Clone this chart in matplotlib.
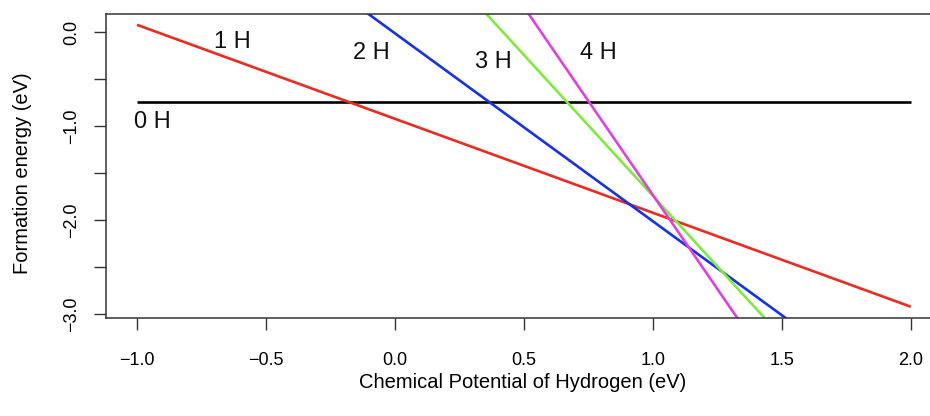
import numpy as np
import matplotlib
matplotlib.use("Agg")
import matplotlib.pyplot as plt

plt.rcParams['font.family'] = ['Liberation Sans', 'DejaVu Sans']

# Data
mu_range = [-1.0, 2.0]
n_hydrogen = [0, 1, 2, 3, 4]
offsets = [-0.74, -0.92, -0.01, 1.26, 2.27]      # E = offset - n * mu
colors = ['#000000', '#EE2A1E', '#1530EE', '#7EEB3C', '#E040E0']
labels = ['0 H', '1 H', '2 H', '3 H', '4 H']
label_mu = [-0.94, -0.63, -0.09, 0.38, 0.79]
label_E = [-0.95, -0.10, -0.22, -0.32, -0.22]
xticks = [-1.0, -0.5, 0.0, 0.5, 1.0, 1.5, 2.0]
yticks = [0.0, -0.5, -1.0, -1.5, -2.0, -2.5, -3.0]
ytick_labels = ['0.0', '', '\u22121.0', '', '\u22122.0', '', '\u22123.0']
xtick_labels = ['\u22121.0', '\u22120.5', '0.0', '0.5', '1.0', '1.5', '2.0']

fig = plt.figure(figsize=(9.3, 4.16), dpi=100)
ax = fig.add_axes([106/930, 98/416, (941.7-106)/930, (318-14)/416])

mu = np.array(mu_range)
for n, off, c in zip(n_hydrogen, offsets, colors):
    ax.plot(mu, off - n * mu, color=c, lw=1.9, solid_capstyle='butt')

for lab, x, y in zip(labels, label_mu, label_E):
    ax.text(x, y, lab, fontsize=17, ha='center', va='center', color='#111111')

ax.set_xlim(-1.12, 2.12)
ax.set_ylim(-3.04, 0.195)
ax.set_xticks(xticks)
ax.set_xticklabels(xtick_labels)
ax.set_yticks(yticks)
ax.set_yticklabels(ytick_labels, rotation=90, va='center')
ax.tick_params(axis='both', length=8.5, width=1.0, color='#333333', labelsize=13)
ax.tick_params(axis='x', pad=16)
ax.tick_params(axis='y', pad=10)
for s in ax.spines.values():
    s.set_linewidth(1.1)
    s.set_color('#333333')
ax.spines['right'].set_visible(False)

fig.text(523/930, 1 - 383/416, 'Chemical Potential of Hydrogen (eV)', fontsize=14.5,
         ha='center', va='center')
fig.text(22/930, 1 - 173/416, 'Formation energy (eV)', fontsize=14.5, rotation=90,
         ha='center', va='center')

fig.savefig('out.png', dpi=100)
